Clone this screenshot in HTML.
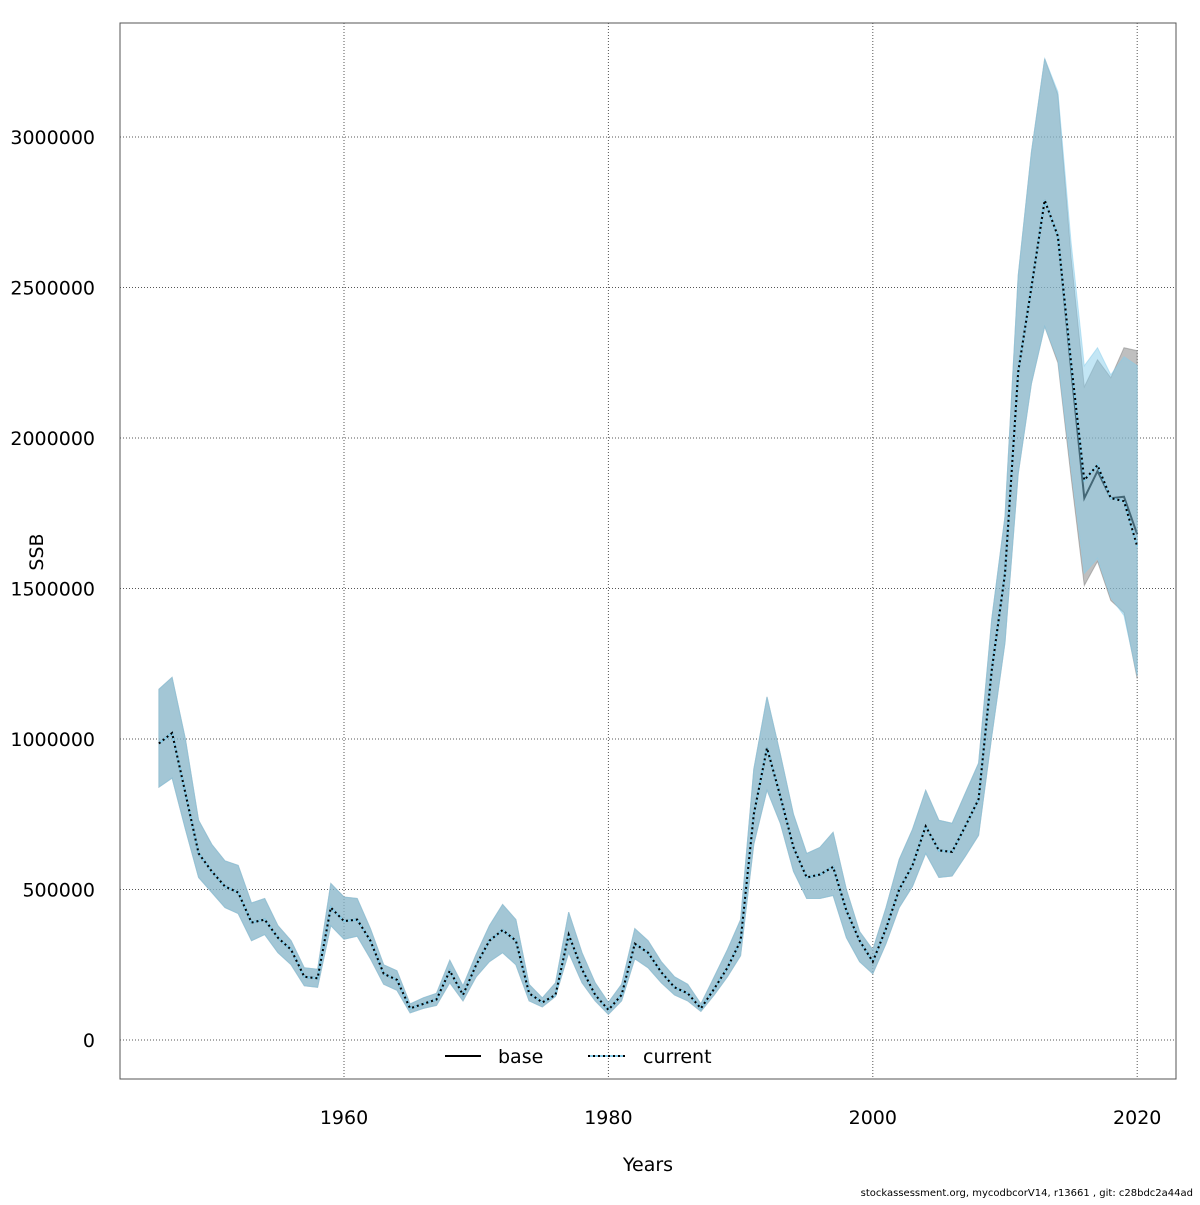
<!DOCTYPE html>
<html><head><meta charset="utf-8"><style>
body{margin:0;background:#fff;}
svg text{font-family:"DejaVu Sans","Liberation Sans",sans-serif;}
</style></head><body>
<svg id="chart" width="1200" height="1200" xmlns="http://www.w3.org/2000/svg">
<rect width="1200" height="1200" fill="#fff"/>
<g id="grid"></g>
<g id="bands"></g>
<rect x="120" y="23" width="1056" height="1056" fill="none" stroke="#555" stroke-width="1"/>
<g id="axes"></g>
<text x="648" y="1171" font-size="19" text-anchor="middle">Years</text>
<text x="0" y="0" font-size="19" text-anchor="middle" transform="translate(43,552) rotate(-90)">SSB</text>
<g>
<g><line x1="445" y1="1056" x2="481" y2="1056" stroke="#000" stroke-width="2"/><text x="498" y="1063" font-size="19">base</text></g>
<g><line x1="588" y1="1056" x2="625" y2="1056" stroke="#87ceeb" stroke-width="2"/><line x1="588" y1="1056" x2="625" y2="1056" stroke="#000" stroke-width="2" stroke-dasharray="2,3"/><text x="643" y="1063" font-size="19">current</text></g>
</g>
<text x="1193" y="1196" font-size="10" text-anchor="end">stockassessment.org, mycodbcorV14, r13661 , git: c28bdc2a44ad</text>
</svg>
<script>
const years=[];for(let y=1946;y<=2020;y++)years.push(y);
const curMean=[985,1020,820,620,560,510,490,390,400,340,300,210,205,440,395,400,330,220,200,105,120,135,230,150,250,330,365,330,155,125,150,350,235,150,100,150,320,290,225,175,155,105,170,240,330,750,970,810,640,540,550,575,430,330,260,370,500,580,710,630,625,710,800,1230,1550,2220,2500,2790,2670,2250,1860,1910,1800,1790,1640];
const curLow=[840,870,700,540,490,440,420,330,350,290,250,180,175,380,335,345,270,185,165,90,105,115,190,130,210,260,290,250,130,110,145,290,190,130,85,130,270,240,190,150,130,95,150,210,280,650,830,720,560,470,470,480,340,260,220,320,440,510,620,540,545,610,680,1010,1320,1880,2180,2370,2260,1900,1550,1600,1470,1410,1210];
const curHigh=[1165,1205,1000,730,650,595,580,455,470,380,330,240,235,520,475,470,370,250,230,120,140,155,265,180,285,380,450,400,185,140,190,425,290,190,125,185,370,330,260,210,185,120,210,300,400,900,1140,950,750,620,640,690,500,360,300,440,600,700,830,730,720,820,920,1400,1740,2540,2950,3260,3150,2650,2240,2300,2210,2270,2240];
const baseMean=[985,1020,820,620,560,510,490,390,400,340,300,210,205,440,395,400,330,220,200,105,120,135,230,150,250,330,365,330,155,125,150,350,235,150,100,150,320,290,225,175,155,105,170,240,330,750,970,810,640,540,550,575,430,330,260,370,500,580,710,630,625,710,800,1230,1550,2220,2500,2790,2670,2230,1800,1890,1800,1805,1680];
const baseLow=[840,870,700,540,490,440,420,330,350,290,250,180,175,380,335,345,270,185,165,90,105,115,190,130,210,260,290,250,130,110,145,290,190,130,85,130,270,240,190,150,130,95,150,210,280,650,830,720,560,470,470,480,340,260,220,320,440,510,620,540,545,610,680,1010,1320,1880,2180,2370,2250,1870,1510,1590,1460,1420,1200];
const baseHigh=[1165,1205,1000,730,650,595,580,455,470,380,330,240,235,520,475,470,370,250,230,120,140,155,265,180,285,380,450,400,185,140,190,425,290,190,125,185,370,330,260,210,185,120,210,300,400,900,1140,950,750,620,640,690,500,360,300,440,600,700,830,730,720,820,920,1400,1740,2540,2950,3260,3140,2600,2170,2260,2200,2300,2290];
const xTicks=[1960,1980,2000,2020];
const yTicks=[0,500000,1000000,1500000,2000000,2500000,3000000];
const NS="http://www.w3.org/2000/svg";
function X(y){return 344+(y-1960)*13.22;}
function Y(v){return 1040-v*301/1e6;}
function mk(tag,at,parent){const e=document.createElementNS(NS,tag);for(const k in at)e.setAttribute(k,at[k]);parent.appendChild(e);return e;}
const grid=document.getElementById('grid'),axes=document.getElementById('axes'),bands=document.getElementById('bands');
xTicks.forEach(t=>{
 const l=mk('line',{x1:X(t),x2:X(t),y1:23,y2:1079,stroke:'#555','stroke-width':1,'stroke-dasharray':'1,2'},grid);
 
 
 const tx=mk('text',{x:X(t),y:1124,'font-size':19,'text-anchor':'middle'},axes);tx.textContent=t;
 
 
});
yTicks.forEach(t=>{
 const l=mk('line',{x1:120,x2:1176,y1:Y(t),y2:Y(t),stroke:'#555','stroke-width':1,'stroke-dasharray':'1,2'},grid);
 
 
 const tx=mk('text',{x:95,y:Y(t)+7,'font-size':19,'text-anchor':'end'},axes);tx.textContent=t;
 
 
});
function bandPath(lo,hi){let d='';years.forEach((y,i)=>{d+=(i?'L':'M')+X(y).toFixed(1)+','+Y(hi[i]*1000).toFixed(1);});for(let i=years.length-1;i>=0;i--)d+='L'+X(years[i]).toFixed(1)+','+Y(lo[i]*1000).toFixed(1);return d+'Z';}
function linePts(m){return years.map((y,i)=>X(y).toFixed(1)+','+Y(m[i]*1000).toFixed(1)).join(' ');}
const b1=mk('path',{d:bandPath(baseLow,baseHigh),fill:'rgba(128,128,128,0.5)',stroke:'rgba(128,128,128,0.5)','stroke-width':1},bands);


const l1=mk('polyline',{points:linePts(baseMean),fill:'none',stroke:'#000','stroke-width':2},bands);


const b2=mk('path',{d:bandPath(curLow,curHigh),fill:'rgba(135,206,235,0.5)',stroke:'rgba(135,206,235,0.5)','stroke-width':1},bands);


const l2=mk('polyline',{points:linePts(curMean),fill:'none',stroke:'#87ceeb','stroke-width':2},bands);


const l3=mk('polyline',{points:linePts(curMean),fill:'none',stroke:'#000','stroke-width':2,'stroke-dasharray':'2,3'},bands);


</script>
</body></html>
